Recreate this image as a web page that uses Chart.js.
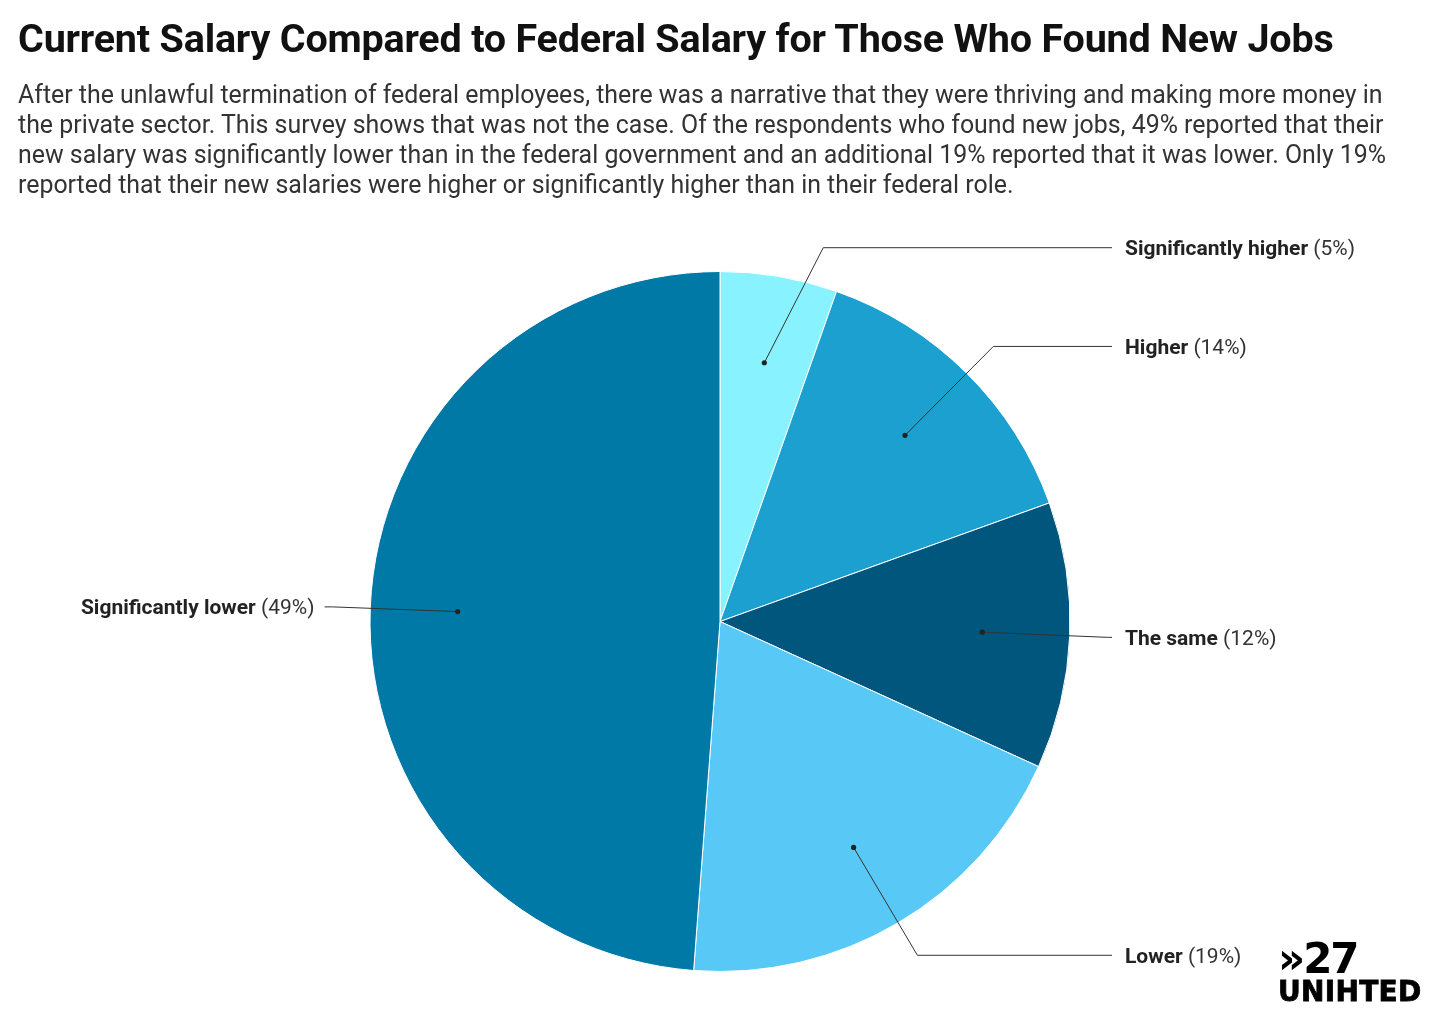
<!DOCTYPE html>
<html lang="en">
<head>
<meta charset="utf-8">
<title>Current Salary Compared to Federal Salary</title>
<script src="https://cdn.jsdelivr.net/npm/chart.js@4.4.1/dist/chart.umd.min.js"></script>
<style>
  body { margin: 0; background: #fff; font-family: Roboto, "Noto Sans", sans-serif; }
  #wrap { position: relative; width: 1440px; height: 1017px; overflow: hidden; }
  #c { position: absolute; left: 0; top: 0; }
  h1 { position: absolute; left: 18px; top: 16px; margin: 0; font-size: 39.5px; line-height: 46px; font-weight: 700; color: #111; white-space: nowrap; letter-spacing: -0.2px; }
  #sub { position: absolute; left: 18px; top: 80px; margin: 0; font-size: 24.9px; line-height: 30px; color: #333; white-space: nowrap; }
  #logo { position: absolute; left: 1278px; top: 938px; color: #000; font-family: "DejaVu Sans", sans-serif; font-weight: 700; line-height: 1; }
  #logo .a { font-size: 42px; letter-spacing: -2px; }
  #logo .b { font-size: 28px; letter-spacing: 0.3px; margin-top: -2px; -webkit-text-stroke: 0.8px #000; }
</style>
</head>
<body>
<div id="wrap">
  <canvas id="c" width="1440" height="1017"></canvas>
  <h1>Current Salary Compared to Federal Salary for Those Who Found New Jobs</h1>
  <p id="sub">After the unlawful termination of federal employees, there was a narrative that they were thriving and making more money in<br>the private sector. This survey shows that was not the case. Of the respondents who found new jobs, 49% reported that their<br>new salary was significantly lower than in the federal government and an additional 19% reported that it was lower. Only 19%<br>reported that their new salaries were higher or significantly higher than in their federal role.</p>
  <div id="logo"><div class="a">&raquo;27</div><div class="b">UNIHTED</div></div>
</div>

<script>
// categories, clockwise from 12 o'clock
var categories = ["Significantly higher", "Higher", "The same", "Lower", "Significantly lower"];
// share of respondents (%)
var shares = [5.4, 14.1, 12.3, 19.4, 48.8];
var sliceColors = ["#88F3FF", "#1BA0CF", "#00567D", "#58C9F6", "#0079A7"];

// leader lines + labels
var calloutPlugin = {
  id: "callouts",
  afterDraw: function(chart) {
    var ctx = chart.ctx;
    var meta = chart.getDatasetMeta(0);
    ctx.save();
    meta.data.forEach(function(arc, i) {
      var cx = arc.x, cy = arc.y, R = arc.outerRadius;
      var mid = (arc.startAngle + arc.endAngle) / 2;
      var dx = Math.cos(mid), dy = Math.sin(mid);
      var px = cx + dx * R * 0.75, py = cy + dy * R * 0.75;
      var er = R * 1.108;
      var ex = cx + dx * er, ey = cy + dy * er;
      var minY = cy - R * 1.068;
      if (ey < minY) {
        ey = minY;
        var off = Math.sqrt(er * er - Math.pow(cy - ey, 2));
        ex = cx + (dx >= 0 ? off : -off);
      }
      var right = dx >= 0;
      var hx = right ? cx + R * 1.12 : cx - R * 1.13;

      ctx.strokeStyle = "#333";
      ctx.lineWidth = 1;
      ctx.beginPath();
      ctx.moveTo(px, py);
      ctx.lineTo(ex, ey);
      ctx.lineTo(hx, ey);
      ctx.stroke();

      ctx.fillStyle = "#222";
      ctx.beginPath();
      ctx.arc(px, py, 2.6, 0, Math.PI * 2);
      ctx.fill();

      var name = categories[i];
      var pct = " (" + Math.round(shares[i]) + "%)";
      ctx.textBaseline = "middle";
      ctx.font = "bold 21px Roboto";
      var w1 = ctx.measureText(name).width;
      ctx.font = "21px Roboto";
      var w2 = ctx.measureText(pct).width;
      var tx = right ? hx + 13 : hx - 10 - w1 - w2;
      var ty = ey + 2;
      ctx.fillStyle = "#222";
      ctx.font = "bold 21px Roboto";
      ctx.fillText(name, tx, ty);
      ctx.fillStyle = "#333";
      ctx.font = "21px Roboto";
      ctx.fillText(pct, tx + w1, ty);
    });
    ctx.restore();
  }
};

var ctx = document.getElementById("c").getContext("2d");
var chart = new Chart(ctx, {
  type: "pie",
  data: {
    labels: categories,
    datasets: [{
      data: shares,
      backgroundColor: sliceColors,
      borderColor: "#ffffff",
      borderWidth: 1
    }]
  },
  options: {
    responsive: false,
    animation: false,
    layout: { padding: { top: 271, bottom: 45, left: 369, right: 369 } },
    plugins: {
      legend: { display: false },
      tooltip: { enabled: false }
    }
  },
  plugins: [calloutPlugin]
});
</script>
</body>
</html>
